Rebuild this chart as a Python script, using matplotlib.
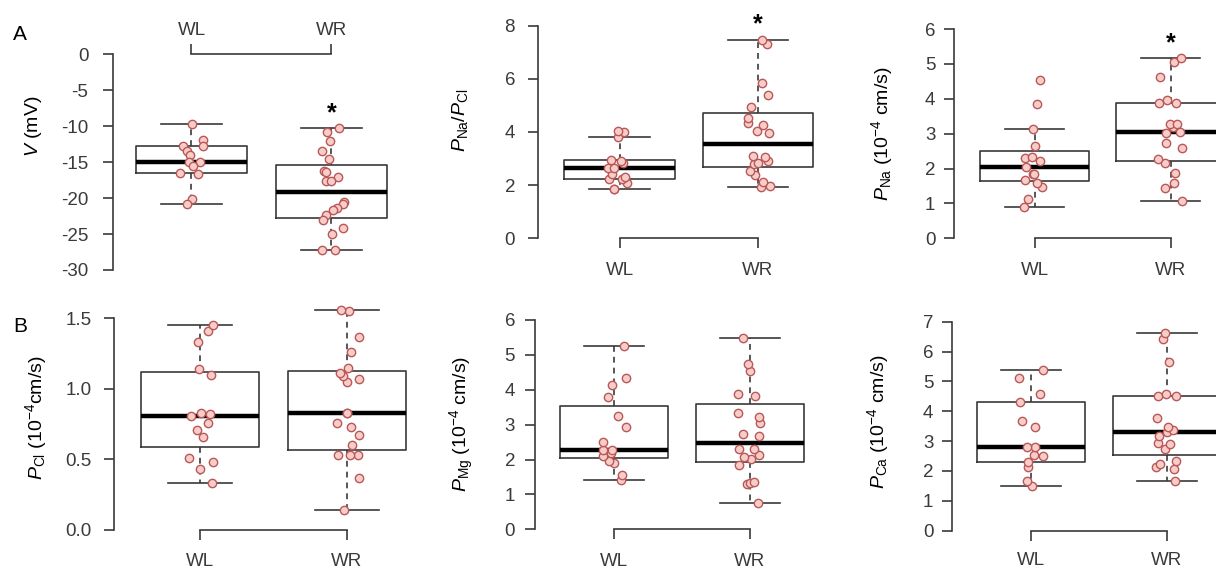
import numpy as np
import matplotlib
matplotlib.use("Agg")
from matplotlib import pyplot as plt

plt.rcParams["font.family"] = ["Liberation Sans", "DejaVu Sans"]
plt.rcParams["mathtext.fontset"] = "custom"
plt.rcParams["mathtext.rm"] = "Liberation Sans"
plt.rcParams["mathtext.it"] = "Liberation Sans:italic"
plt.rcParams["axes.unicode_minus"] = False

groups = ["WL", "WR"]

# membrane potential (mV)
v_wl = [-9.7, -11.9, -12.7, -12.8, -13.4, -14.0, -15.0, -15.0, -15.5, -16.5, -16.6, -20.1, -20.8]
v_wr = [-10.3, -10.8, -12.1, -13.4, -14.6, -16.2, -16.4, -17.0, -17.6, -17.6,
        -20.6, -20.8, -21.4, -21.7, -22.3, -23.1, -24.2, -25.0, -27.2, -27.2]

# PNa/PCl
ratio_wl = [1.84, 1.84, 2.09, 2.22, 2.24, 2.32, 2.42, 2.63, 2.66, 2.84, 2.92, 2.94, 3.81, 3.99, 4.03]
ratio_wr = [1.94, 1.97, 2.13, 2.38, 2.54, 2.80, 2.84, 2.91, 3.07, 3.09,
            3.97, 4.03, 4.26, 4.35, 4.51, 4.95, 5.41, 5.83, 7.33, 7.48]

# permeabilities (1e-4 cm/s)
na_wl = [0.89, 1.13, 1.48, 1.59, 1.67, 1.83, 1.83, 2.04, 2.21, 2.29, 2.33, 2.66, 3.12, 3.84, 4.54]
na_wr = [1.06, 1.43, 1.59, 1.88, 2.15, 2.26, 2.58, 2.72, 3.02, 3.05,
         3.20, 3.27, 3.27, 3.87, 3.87, 3.97, 4.63, 5.06, 5.16]
cl_wl = [0.33, 0.43, 0.48, 0.51, 0.66, 0.71, 0.76, 0.81, 0.82, 0.83, 1.10, 1.14, 1.33, 1.41, 1.45]
cl_wr = [0.14, 0.37, 0.53, 0.53, 0.53, 0.60, 0.67, 0.73, 0.76, 0.83,
         0.83, 1.05, 1.07, 1.09, 1.11, 1.15, 1.26, 1.37, 1.55, 1.56]
mg_wl = [1.41, 1.56, 1.91, 1.95, 2.11, 2.18, 2.27, 2.27, 2.49, 2.94, 3.26, 3.80, 4.15, 4.33, 5.25]
mg_wr = [0.75, 1.30, 1.34, 1.36, 1.84, 2.01, 2.08, 2.13, 2.30, 2.30,
         2.67, 2.73, 3.05, 3.21, 3.34, 3.82, 3.88, 4.54, 4.73, 5.47]
ca_wl = [1.51, 1.66, 2.12, 2.31, 2.51, 2.55, 2.79, 2.81, 3.46, 3.69, 4.30, 4.57, 5.11, 5.38]
ca_wr = [1.66, 2.07, 2.12, 2.22, 2.35, 2.74, 2.89, 2.93, 3.18, 3.32,
         3.37, 3.48, 3.77, 4.50, 4.52, 4.58, 5.64, 6.41, 6.61]

v_ticks = [0, -5, -10, -15, -20, -25, -30]
ratio_ticks = [0, 2, 4, 6, 8]
na_ticks = [0, 1, 2, 3, 4, 5, 6]
cl_ticks = [0.0, 0.5, 1.0, 1.5]
mg_ticks = [0, 1, 2, 3, 4, 5, 6]
ca_ticks = [0, 1, 2, 3, 4, 5, 6, 7]

W, H = 1216, 573
DARK = "#3a3a3a"


def r_stats(vals):
    # R boxplot: Tukey hinges, whiskers at 1.5 IQR
    x = np.sort(np.asarray(vals, dtype=float))
    n = len(x)
    n4 = np.floor((n + 3) / 2) / 2
    d = np.array([1, n4, (n + 1) / 2, n + 1 - n4, n]) - 1
    f = 0.5 * (x[np.floor(d).astype(int)] + x[np.ceil(d).astype(int)])
    iqr = f[3] - f[1]
    hi = x[x <= f[3] + 1.5 * iqr + 1e-9].max()
    lo = x[x >= f[1] - 1.5 * iqr - 1e-9].min()
    return dict(med=f[2], q1=f[1], q3=f[3], whislo=lo, whishi=hi, fliers=[])


def place(fig, left, right, top, bottom, c1, c2, ya, pa, yb, pb):
    sx = c2 - c1
    sy = (pa - pb) / (yb - ya)
    ax = fig.add_axes([left / W, 1 - bottom / H, (right - left) / W, (bottom - top) / H])
    ax.set_xlim(1 - (c1 - left) / sx, 2 + (right - c2) / sx)
    ax.set_ylim(ya - (bottom - pa) / sy, ya + (pa - top) / sy)
    ax.patch.set_alpha(0)
    return ax


def draw_panel(ax, wl, wr, ticks, labels, star, top_axis, ypad, xpad, seed):
    stats = [r_stats(wl), r_stats(wr)]
    ax.bxp(stats, positions=[1, 2], widths=0.8, capwidths=0.44, showfliers=False,
           boxprops=dict(color=DARK, lw=1.2),
           medianprops=dict(color="black", lw=3.2, solid_capstyle="butt"),
           whiskerprops=dict(color=DARK, lw=1.2, linestyle=(0, (3.5, 3))),
           capprops=dict(color=DARK, lw=1.2))
    rng = np.random.default_rng(seed)
    for pos, vals in zip([1, 2], [wl, wr]):
        xs = pos + rng.uniform(-0.09, 0.09, len(vals))
        ax.scatter(xs, vals, s=36, facecolor="#f8cdc8", edgecolor="#b85858",
                   linewidths=1.0, zorder=4, clip_on=False)
    if star:
        ax.annotate("*", xy=(2, stats[1]["whishi"]), xytext=(0, 6), textcoords="offset points",
                    ha="center", va="baseline", fontsize=18, fontweight="bold", color="black")

    for s in ["left", "right", "top", "bottom"]:
        ax.spines[s].set_visible(False)
    ax.spines["left"].set_visible(True)
    ax.spines["left"].set_bounds(min(ticks), max(ticks))
    ax.spines["left"].set_color(DARK)
    ax.spines["left"].set_linewidth(1.2)
    ax.set_yticks(ticks)
    ax.set_yticklabels(labels)
    ax.tick_params(axis="y", direction="out", length=7.2, width=1.2, color=DARK,
                   labelcolor=DARK, labelsize=13.5, pad=ypad * 0.72)

    side = "top" if top_axis else "bottom"
    sp = ax.spines[side]
    sp.set_visible(True)
    sp.set_bounds(1, 2)
    sp.set_position(("data", 0))
    sp.set_color(DARK)
    sp.set_linewidth(1.2)
    ax.xaxis.set_ticks_position(side)
    ax.set_xticks([1, 2])
    ax.set_xticklabels(groups)
    ax.tick_params(axis="x", direction="out", length=7.2, width=1.2, color=DARK,
                   labelcolor=DARK, labelsize=13.5, pad=xpad * 0.72)


fig = plt.figure(figsize=(W / 100, H / 100), dpi=100)

# row A
ax = place(fig, 113.3, 410, 45, 278, 191.5, 331.5, 0, 54.3, -30, 270)
draw_panel(ax, v_wl, v_wr, v_ticks, [str(t) for t in v_ticks], True, True, 15, 5, 1)
fig.text(34 / W, 1 - 126 / H, "$V$ (mV)", rotation=90, ha="center", va="center", fontsize=14)

ax = place(fig, 538, 820, 8, 250, 619.5, 758, 0, 238.3, 8, 25.7)
draw_panel(ax, ratio_wl, ratio_wr, ratio_ticks, [str(t) for t in ratio_ticks], True, False, 13, 14, 2)
fig.text(460 / W, 1 - 120 / H, r"$P_{\rm Na}/P_{\rm Cl}$", rotation=90, ha="center", va="center",
         fontsize=14)

ax = place(fig, 954.3, W, 8, 250, 1034.5, 1170.5, 0, 238.3, 6, 29)
draw_panel(ax, na_wl, na_wr, na_ticks, [str(t) for t in na_ticks], True, False, 9, 13.5, 3)
fig.text(882 / W, 1 - 134 / H, r"$P_{\rm Na}$ (10$^{-4}$ cm/s)", rotation=90, ha="center",
         va="center", fontsize=14)

# row B
ax = place(fig, 114.3, 410, 300, 545, 200, 347, 0, 530, 1.5, 318.3)
draw_panel(ax, cl_wl, cl_wr, cl_ticks, ["%.1f" % t for t in cl_ticks], False, False, 13, 12.5, 4)
fig.text(36 / W, 1 - 418 / H, r"$P_{\rm Cl}$ (10$^{-4}$cm/s)", rotation=90, ha="center",
         va="center", fontsize=14)

ax = place(fig, 535, 812, 305, 545, 614, 750, 0, 529.3, 6, 320)
draw_panel(ax, mg_wl, mg_wr, mg_ticks, [str(t) for t in mg_ticks], False, False, 10, 13.5, 5)
fig.text(462 / W, 1 - 424 / H, r"$P_{\rm Mg}$ (10$^{-4}$ cm/s)", rotation=90, ha="center",
         va="center", fontsize=14)

ax = place(fig, 952.3, W, 305, 545, 1031, 1167, 0, 530.7, 7, 321.7)
draw_panel(ax, ca_wl, ca_wr, ca_ticks, [str(t) for t in ca_ticks], False, False, 9, 11.5, 6)
fig.text(878 / W, 1 - 422 / H, r"$P_{\rm Ca}$ (10$^{-4}$ cm/s)", rotation=90, ha="center",
         va="center", fontsize=14)

fig.text(20 / W, 1 - 35 / H, "A", ha="center", va="center", fontsize=15)
fig.text(20 / W, 1 - 327 / H, "B", ha="center", va="center", fontsize=15)

fig.savefig("out.png", dpi=100)
plt.close(fig)
